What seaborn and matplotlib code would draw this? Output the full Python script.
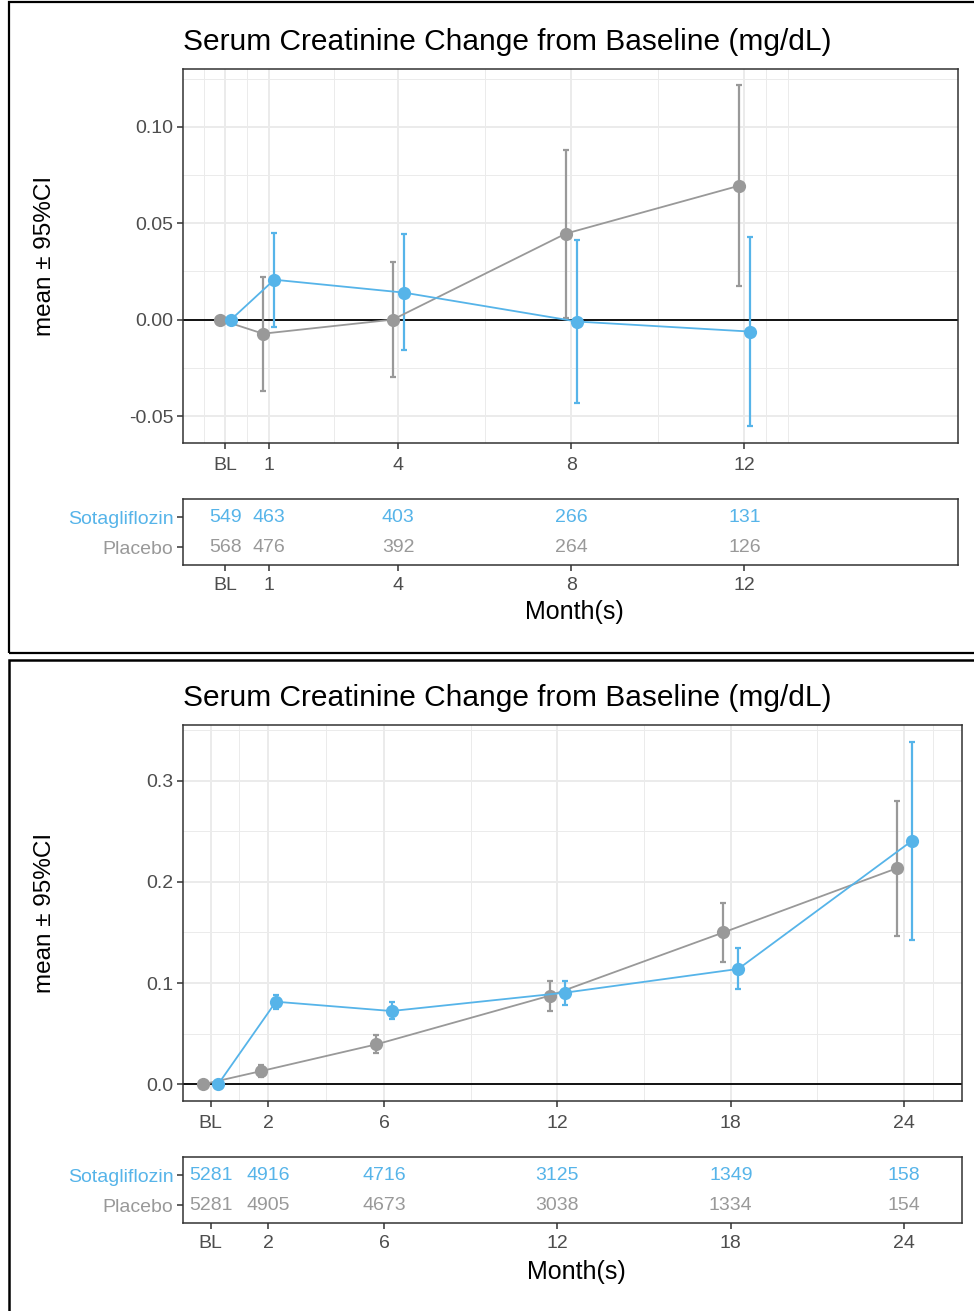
import numpy as np
import pandas as pd
import matplotlib
matplotlib.use("Agg")
import matplotlib.pyplot as plt
from matplotlib.patches import Rectangle
import seaborn as sns

# ---------------- data ----------------
groups = ["Sotagliflozin", "Placebo"]

top_months = [0, 1, 4, 8, 12]
top_tick_labels = ["BL", "1", "4", "8", "12"]
top_soto_mean = [0.0, 0.0207, 0.0140, -0.0010, -0.0062]
top_soto_lo = [0.0, -0.0036, -0.0160, -0.0430, -0.0553]
top_soto_hi = [0.0, 0.0450, 0.0446, 0.0415, 0.0430]
top_plac_mean = [0.0, -0.0073, 0.0000, 0.0446, 0.0694]
top_plac_lo = [0.0, -0.0368, -0.0300, 0.0010, 0.0176]
top_plac_hi = [0.0, 0.0223, 0.0300, 0.0880, 0.1218]
top_n_soto = [549, 463, 403, 266, 131]
top_n_plac = [568, 476, 392, 264, 126]
top_yticks = [-0.05, 0.00, 0.05, 0.10]
top_ytick_labels = ["-0.05", "0.00", "0.05", "0.10"]

bot_months = [0, 2, 6, 12, 18, 24]
bot_tick_labels = ["BL", "2", "6", "12", "18", "24"]
bot_soto_mean = [0.0, 0.0816, 0.0724, 0.0905, 0.1140, 0.2404]
bot_soto_lo = [0.0, 0.0740, 0.0645, 0.0780, 0.0940, 0.1430]
bot_soto_hi = [0.0, 0.0880, 0.0810, 0.1020, 0.1350, 0.3385]
bot_plac_mean = [0.0, 0.0130, 0.0395, 0.0876, 0.1500, 0.2134]
bot_plac_lo = [0.0, 0.0070, 0.0310, 0.0720, 0.1210, 0.1465]
bot_plac_hi = [0.0, 0.0190, 0.0484, 0.1020, 0.1790, 0.2800]
bot_n_soto = [5281, 4916, 4716, 3125, 1349, 158]
bot_n_plac = [5281, 4905, 4673, 3038, 1334, 154]
bot_yticks = [0.0, 0.1, 0.2, 0.3]
bot_ytick_labels = ["0.0", "0.1", "0.2", "0.3"]

title_text = "Serum Creatinine Change from Baseline (mg/dL)"
ylabel_text = "mean \u00b1 95%CI"
xlabel_text = "Month(s)"

# ---------------- style ----------------
sns.set_theme(style="whitegrid")
plt.rcParams["font.family"] = ["Liberation Sans", "DejaVu Sans"]
BLUE = "#56B4E9"
GREY = "#999999"
palette = {"Sotagliflozin": BLUE, "Placebo": GREY}
TICKCOL = "#4D4D4D"
FRAME = "#333333"
GRID = "#EBEBEB"

W, H = 974, 1311
fig = plt.figure(figsize=(W / 100, H / 100), dpi=100)


def rect(x0, y0, x1, y1):
    return [x0 / W, 1 - y1 / H, (x1 - x0) / W, (y1 - y0) / H]


def style_frame(ax):
    for s in ax.spines.values():
        s.set_visible(True)
        s.set_color(FRAME)
        s.set_linewidth(1.1)


def panel(box_main, box_tab, months, ticklabels, minor_x, xlim, ylim, yticks,
          yticklabels, minor_y, soto, plac, n_soto, n_plac, dodge,
          title_y, ylabel_x, xlabel_y):
    ax = fig.add_axes(rect(*box_main))
    rows = []
    for g, (m, lo, hi), sgn in [("Placebo", plac, -1), ("Sotagliflozin", soto, 1)]:
        for mo, mv, l, h in zip(months, m, lo, hi):
            rows.append(dict(group=g, x=mo + sgn * dodge, mean=mv, lo=l, hi=h))
    df = pd.DataFrame(rows)

    ax.axhline(0, color="black", lw=1.3, zorder=1.5)
    for g in ["Placebo", "Sotagliflozin"]:
        d = df[(df.group == g) & (df.hi > df.lo)]
        ax.errorbar(d.x, d["mean"], yerr=[d["mean"] - d.lo, d.hi - d["mean"]],
                    fmt="none", ecolor=palette[g], elinewidth=1.6, capsize=2.3,
                    capthick=1.6, zorder=2)
    sns.lineplot(data=df, x="x", y="mean", hue="group", hue_order=["Placebo", "Sotagliflozin"],
                 palette=palette, marker="o", markersize=9.5, markeredgewidth=0,
                 linewidth=1.3, errorbar=None, legend=False, ax=ax, zorder=3, sort=True)

    ax.set_xlim(*xlim)
    ax.set_ylim(*ylim)
    ax.set_xticks(months)
    ax.set_xticklabels(ticklabels)
    ax.set_xticks(minor_x, minor=True)
    ax.set_yticks(yticks)
    ax.set_yticklabels(yticklabels)
    ax.set_yticks(minor_y, minor=True)
    ax.grid(True, which="major", color=GRID, lw=1.4)
    ax.grid(True, which="minor", color=GRID, lw=0.7)
    ax.set_axisbelow(True)
    ax.tick_params(axis="both", which="major", length=4, width=1.1, color=FRAME,
                   labelcolor=TICKCOL, labelsize=14, pad=3, bottom=True, left=True)
    ax.tick_params(axis="x", which="major", pad=6)
    ax.tick_params(axis="both", which="minor", length=0)
    ax.set_xlabel("")
    ax.set_ylabel("")
    style_frame(ax)

    fig.text(box_main[0] / W, 1 - title_y / H, title_text, fontsize=21.5,
             color="black", ha="left", va="center")
    fig.text(ylabel_x / W, 1 - (box_main[1] + box_main[3]) / 2 / H, ylabel_text,
             fontsize=17.5, rotation=90, ha="center", va="center", color="black")

    # risk table
    at = fig.add_axes(rect(*box_tab))
    at.set_xlim(*xlim)
    at.set_ylim(-0.6, 1.6)
    for mo, ns, npl in zip(months, n_soto, n_plac):
        at.text(mo, 1, str(ns), color=BLUE, fontsize=14, ha="center", va="center")
        at.text(mo, 0, str(npl), color=GREY, fontsize=14, ha="center", va="center")
    at.set_xticks(months)
    at.set_xticklabels(ticklabels)
    at.set_yticks([1, 0])
    at.set_yticklabels(groups)
    for lab, g in zip(at.get_yticklabels(), groups):
        lab.set_color(palette[g])
    at.grid(False)
    at.tick_params(axis="both", length=4, width=1.1, color=FRAME, labelsize=14,
                   pad=3, bottom=True, left=True)
    at.tick_params(axis="x", labelcolor=TICKCOL, pad=4.5)
    style_frame(at)
    at.set_facecolor("white")
    fig.text((box_tab[0] + box_tab[2]) / 2 / W + 4 / W, 1 - xlabel_y / H, xlabel_text,
             fontsize=18, ha="center", va="center", color="black")
    return ax, at


panel((183, 69, 958, 443), (183, 499, 958, 565), top_months, top_tick_labels,
      [-0.5, 0.5, 2.5, 6, 10, 12.5, 13], (-0.98, 16.94), (-0.064, 0.130),
      top_yticks, top_ytick_labels, [-0.025, 0.025, 0.075, 0.125],
      (top_soto_mean, top_soto_lo, top_soto_hi),
      (top_plac_mean, top_plac_lo, top_plac_hi),
      top_n_soto, top_n_plac, 0.13, 42, 45, 612)

panel((183, 725, 962, 1101), (183, 1157, 962, 1223), bot_months, bot_tick_labels,
      [1, 4, 9, 15, 21, 25], (-0.955, 26.0), (-0.0165, 0.355),
      bot_yticks, bot_ytick_labels, [0.05, 0.15, 0.25, 0.35],
      (bot_soto_mean, bot_soto_lo, bot_soto_hi),
      (bot_plac_mean, bot_plac_lo, bot_plac_hi),
      bot_n_soto, bot_n_plac, 0.26, 698, 45, 1272)

# outer panel frames
fig.patches.append(Rectangle((9 / W, 1 - 653 / H), 1.0, (653 - 2) / H,
                             transform=fig.transFigure, fill=False,
                             edgecolor="black", lw=1.6, zorder=0))
fig.patches.append(Rectangle((9 / W, 1 - 1320 / H), 1.0, (1320 - 660) / H,
                             transform=fig.transFigure, fill=False,
                             edgecolor="black", lw=1.8, zorder=0))

fig.savefig("out.png", dpi=100)
